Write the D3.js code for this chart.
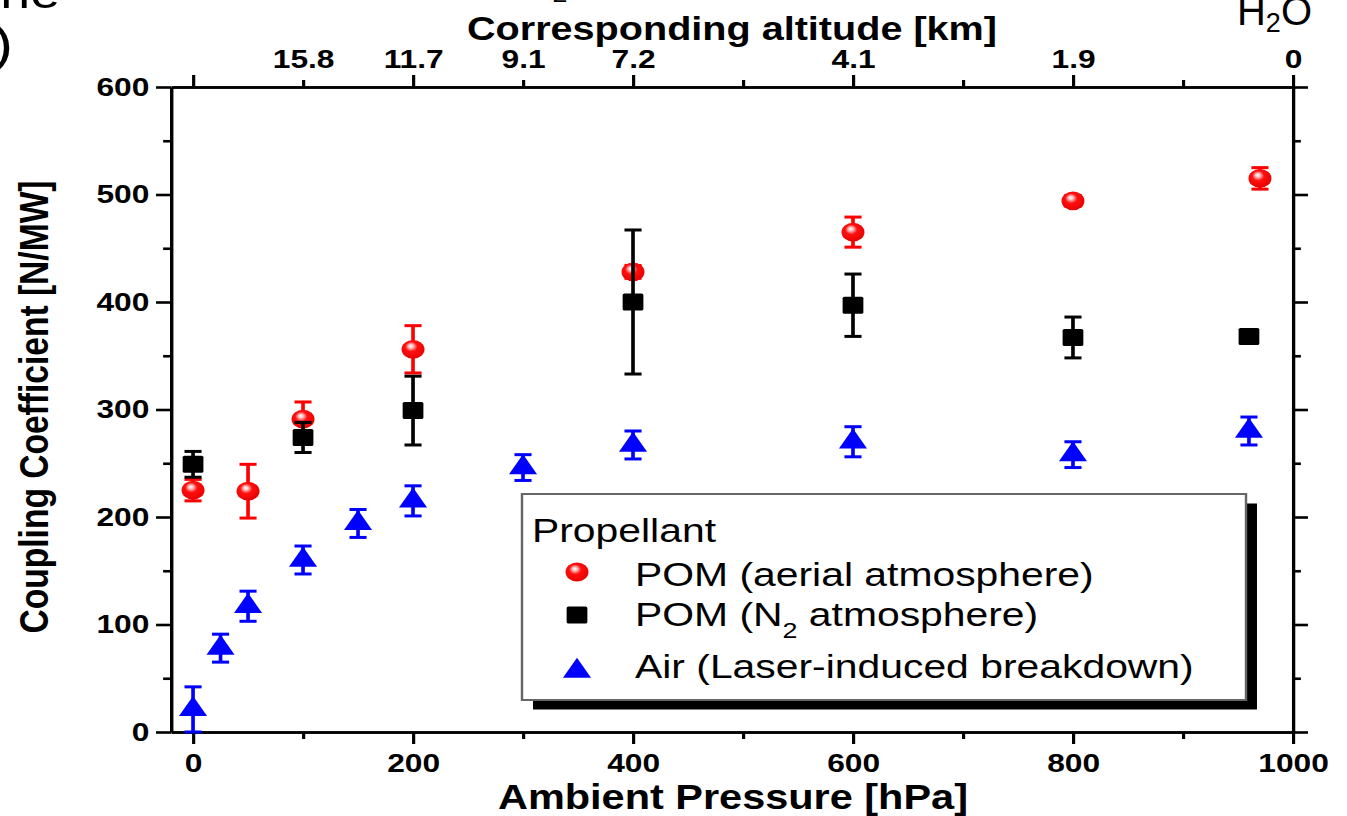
<!DOCTYPE html>
<html><head><meta charset="utf-8">
<script src="https://cdn.jsdelivr.net/npm/d3@7"></script>
<style>
body{margin:0;background:#fff;}
svg{display:block;font-family:"Liberation Sans",Arial,sans-serif;}
</style>
</head><body>
<svg id="chart" width="1347" height="816"></svg>
<script>
// ---------- data ----------
const pomAirP   = [0, 50, 100, 200, 400, 600, 800, 970];
const pomAirC   = [225, 224, 291, 356, 428, 465, 494, 515];
const pomAirErr = [10, 25, 16, 22, 6, 14, 5, 10];

const pomN2P    = [0, 100, 200, 400, 600, 800, 960];
const pomN2C    = [249, 274, 299, 400, 397, 367, 368];
const pomN2Err  = [12, 14, 32, 67, 29, 19, 4];

const airP      = [0, 25, 50, 100, 150, 200, 300, 400, 600, 800, 960];
const airC      = [21, 78, 117, 160, 194, 215, 246, 267, 270, 258, 280];
const airErr    = [21, 13, 14, 13, 13, 14, 12, 13, 14, 12, 13];

const xMajorTicks = [0, 200, 400, 600, 800, 1000];
const xMinorTicks = [100, 300, 500, 700, 900];
const yMajorTicks = [0, 100, 200, 300, 400, 500, 600];
const yMinorTicks = [50, 150, 250, 350, 450, 550];
const altitudePos    = [100, 200, 300, 400, 600, 800, 1000];
const altitudeLabels = ["15.8", "11.7", "9.1", "7.2", "4.1", "1.9", "0"];

const xTitle = "Ambient Pressure [hPa]";
const yTitle = "Coupling Coefficient [N/MW]";
const topTitle = "Corresponding altitude [km]";
const legendTitle = "Propellant";

// ---------- setup ----------
const SX = 1.22; // horizontal stretch of the original figure
const svg = d3.select("#chart");
const defs = svg.append("defs");
const grad = defs.append("radialGradient").attr("id", "sphere")
  .attr("cx", "0.45").attr("cy", "0.42").attr("r", "0.62")
  .attr("fx", "0.4").attr("fy", "0.32");
grad.append("stop").attr("offset", "0").attr("stop-color", "#ffffff");
grad.append("stop").attr("offset", "0.16").attr("stop-color", "#ffc4c4");
grad.append("stop").attr("offset", "0.42").attr("stop-color", "#ff1010");
grad.append("stop").attr("offset", "1").attr("stop-color", "#e40000");

const root = svg.append("g").attr("transform", `scale(${SX},1)`);

const x = d3.scaleLinear().domain([-20, 1000]).range([140.2, 1059.8]);
const y = d3.scaleLinear().domain([0, 600]).range([732, 87]);
const X0 = x.range()[0], X1 = x.range()[1], Y0 = y.range()[0], Y1 = y.range()[1];

const AX_W = 2.6;
function styleAxis(g) {
  g.select(".domain").attr("stroke", "#000").attr("stroke-width", AX_W);
  g.selectAll(".tick line").attr("stroke", "#000").attr("stroke-width", AX_W);
  g.selectAll(".tick text").attr("fill", "#000").attr("font-size", 26)
    .attr("font-weight", "bold").attr("font-family", '"Liberation Sans",Arial,sans-serif');
}

// bottom axis
const gB = root.append("g").attr("transform", `translate(0,${Y0})`)
  .call(d3.axisBottom(x).tickValues(xMajorTicks).tickSize(12).tickSizeOuter(0).tickPadding(9.5).tickFormat(d3.format("d")));
styleAxis(gB);
const gBm = root.append("g").attr("transform", `translate(0,${Y0})`)
  .call(d3.axisBottom(x).tickValues(xMinorTicks).tickSize(7).tickSizeOuter(0).tickFormat(""));
styleAxis(gBm);

// top axis
const gT = root.append("g").attr("transform", `translate(0,${Y1})`)
  .call(d3.axisTop(x).tickValues(xMajorTicks).tickSize(12).tickSizeOuter(0).tickFormat(""));
styleAxis(gT);
const gTm = root.append("g").attr("transform", `translate(0,${Y1})`)
  .call(d3.axisTop(x).tickValues(xMinorTicks).tickSize(7).tickSizeOuter(0).tickFormat(""));
styleAxis(gTm);
const gTl = root.append("g").attr("transform", `translate(0,${Y1})`)
  .call(d3.axisTop(x).tickValues(altitudePos).tickSize(0).tickSizeOuter(0).tickPadding(19)
    .tickFormat((d, i) => altitudeLabels[i]));
styleAxis(gTl);
gTl.select(".domain").remove();

// left axis
const gL = root.append("g").attr("transform", `translate(${X0},0)`)
  .call(d3.axisLeft(y).tickValues(yMajorTicks).tickSize(12.3).tickSizeOuter(0).tickPadding(5.5).tickFormat(d3.format("d")));
styleAxis(gL);
const gLm = root.append("g").attr("transform", `translate(${X0},0)`)
  .call(d3.axisLeft(y).tickValues(yMinorTicks).tickSize(6.5).tickSizeOuter(0).tickFormat(""));
styleAxis(gLm);

// right axis
const gR = root.append("g").attr("transform", `translate(${X1},0)`)
  .call(d3.axisRight(y).tickValues(yMajorTicks).tickSize(12.3).tickSizeOuter(0).tickFormat(""));
styleAxis(gR);
const gRm = root.append("g").attr("transform", `translate(${X1},0)`)
  .call(d3.axisRight(y).tickValues(yMinorTicks).tickSize(6.5).tickSizeOuter(0).tickFormat(""));
styleAxis(gRm);

// titles
root.append("text").attr("x", (X0 + X1) / 2 + 0.8).attr("y", 809)
  .attr("text-anchor", "middle").attr("font-size", 35).attr("font-weight", "bold")
  .attr("textLength", 470 / SX).attr("lengthAdjust", "spacingAndGlyphs").text(xTitle);
root.append("text").attr("x", 732 / SX).attr("y", 40.5)
  .attr("text-anchor", "middle").attr("font-size", 33.5).attr("font-weight", "bold")
  .attr("textLength", 530 / SX).attr("lengthAdjust", "spacingAndGlyphs").text(topTitle);
root.append("text").attr("transform", `translate(${48 / SX},407) rotate(-90)`)
  .attr("text-anchor", "middle").attr("font-size", 34).attr("font-weight", "bold")
  .attr("textLength", 453).attr("lengthAdjust", "spacingAndGlyphs").text(yTitle);

// ---------- markers ----------
const TRI_W = 23, TRI_H = 20, SQ = 17, CR = 9.4, CAP = 14, EB_W = 3;
function sphere(g, cx, cy) {
  g.append("circle").attr("cx", cx).attr("cy", cy).attr("r", CR).attr("fill", "url(#sphere)");
}
function square(g, cx, cy) {
  g.append("rect").attr("x", cx - SQ / 2).attr("y", cy - SQ / 2).attr("width", SQ).attr("height", SQ)
    .attr("rx", 1.5).attr("fill", "#000");
}
function triangle(g, cx, cy) {
  g.append("path").attr("d",
    `M${cx},${cy - TRI_H * 2 / 3} L${cx + TRI_W / 2},${cy + TRI_H / 3} L${cx - TRI_W / 2},${cy + TRI_H / 3} Z`)
    .attr("fill", "#0000ff");
}

function drawSeries(P, C, E, color, marker) {
  const g = root.append("g");
  P.forEach((p, i) => {
    const cx = x(p), lo = y(Math.max(0, C[i] - E[i])), hi = y(C[i] + E[i]);
    g.append("line").attr("x1", cx).attr("x2", cx).attr("y1", lo).attr("y2", hi)
      .attr("stroke", color).attr("stroke-width", EB_W);
    [lo, hi].forEach(yy => g.append("line").attr("x1", cx - CAP / 2).attr("x2", cx + CAP / 2)
      .attr("y1", yy).attr("y2", yy).attr("stroke", color).attr("stroke-width", EB_W));
  });
  P.forEach((p, i) => marker(g, x(p), y(C[i])));
}
drawSeries(pomAirP, pomAirC, pomAirErr, "#ff0000", sphere);
drawSeries(pomN2P, pomN2C, pomN2Err, "#000000", square);
drawSeries(airP, airC, airErr, "#0000ff", triangle);

// ---------- legend ----------
const lg = root.append("g");
const LX = 522 / SX, LY = 494, LW = (1246 - 522) / SX, LH = 206;
lg.append("rect").attr("x", LX + 9).attr("y", LY + 9.5).attr("width", LW).attr("height", LH).attr("fill", "#000");
lg.append("rect").attr("x", LX).attr("y", LY).attr("width", LW).attr("height", LH)
  .attr("fill", "#fff").attr("stroke", "#666").attr("stroke-width", 2);
lg.append("text").attr("x", 532 / SX).attr("y", 542).attr("font-size", 33.5).attr("fill", "#000").text(legendTitle);
const symX = 577 / SX, txtX = 635 / SX;
sphere(lg, symX, 572);
square(lg, symX, 615);
triangle(lg, symX, 671);
lg.append("text").attr("x", txtX).attr("y", 586).attr("font-size", 33.5).text("POM (aerial atmosphere)");
const t2 = lg.append("text").attr("x", txtX).attr("y", 626).attr("font-size", 33.5);
t2.append("tspan").text("POM (N");
t2.append("tspan").attr("font-size", 22).attr("dy", 12).text("2");
t2.append("tspan").attr("dy", -12).text(" atmosphere)");
lg.append("text").attr("x", txtX).attr("y", 678).attr("font-size", 33.5).text("Air (Laser-induced breakdown)");

// ---------- cropped fragments of surrounding figure text ----------
root.append("text").attr("x", 60 / SX).attr("y", 8).attr("text-anchor", "end").attr("font-size", 44).text("the");
root.append("text").attr("x", 13 / SX).attr("y", 61.5).attr("text-anchor", "end").attr("font-size", 50).text(")");
root.append("text").attr("x", 560 / SX).attr("y", 2).attr("text-anchor", "middle").attr("font-size", 22).text("2");
const h2o = root.append("text").attr("x", 1237 / SX).attr("y", 25).attr("font-size", 40)
  .attr("textLength", 75 / SX).attr("lengthAdjust", "spacingAndGlyphs");
h2o.append("tspan").text("H");
h2o.append("tspan").attr("font-size", 27).attr("dy", 7).text("2");
h2o.append("tspan").attr("dy", -7).text("O");
</script>
</body></html>
